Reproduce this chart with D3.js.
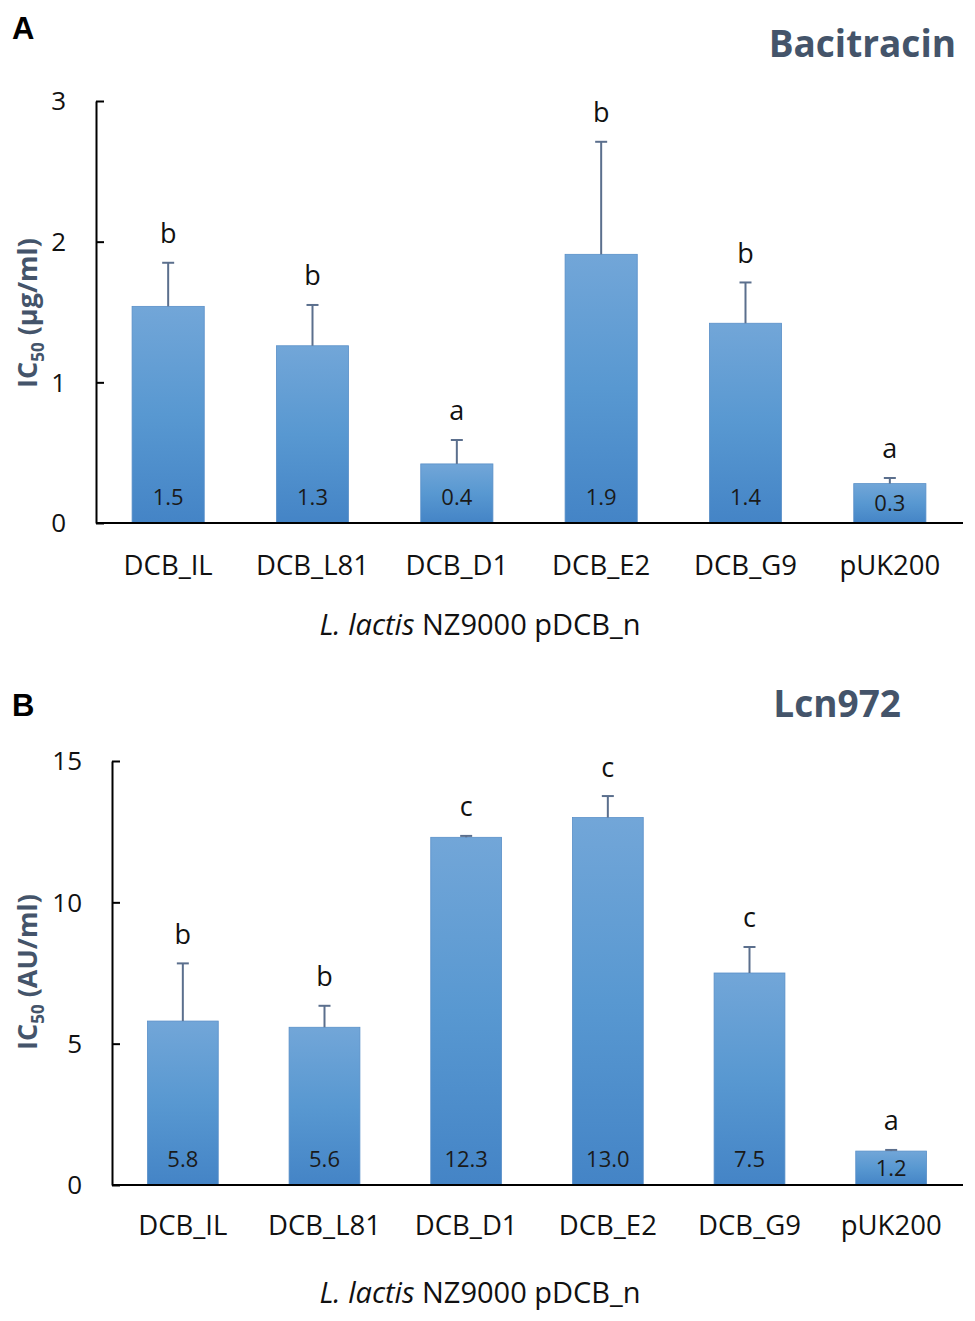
<!DOCTYPE html>
<html>
<head>
<meta charset="utf-8">
<script src="https://cdn.jsdelivr.net/npm/d3@7"></script>
<style>
  body { margin: 0; background: #fff; }
  svg { display: block; font-family: 'Open Sans', sans-serif; }
</style>
</head>
<body>
<div id="chart"></div>
<script>
const categories = ['DCB_IL', 'DCB_L81', 'DCB_D1', 'DCB_E2', 'DCB_G9', 'pUK200']

// panel A, bacitracin IC50 (µg/ml)
const bacMean = [1.54, 1.26, 0.42, 1.91, 1.42, 0.28]
const bacErr = [0.31, 0.29, 0.17, 0.80, 0.29, 0.04]
const bacLetters = ['b', 'b', 'a', 'b', 'b', 'a']
const bacTicks = [0, 1, 2, 3]

// panel B, Lcn972 IC50 (AU/ml)
const lcnMean = [5.8, 5.58, 12.3, 13.0, 7.5, 1.2]
const lcnErr = [2.04, 0.76, 0.05, 0.76, 0.92, 0.04]
const lcnLetters = ['b', 'b', 'c', 'c', 'c', 'a']
const lcnTicks = [0, 5, 10, 15]

const width = 975
const height = 1321

const svg = d3.select('#chart')
  .append('svg')
  .attr('width', width)
  .attr('height', height)

const grad = svg.append('defs')
  .append('linearGradient')
  .attr('id', 'barFill')
  .attr('x1', 0).attr('y1', 0)
  .attr('x2', 0).attr('y2', 1)
grad.append('stop').attr('offset', '0%').attr('stop-color', '#72a6d8')
grad.append('stop').attr('offset', '50%').attr('stop-color', '#5898d1')
grad.append('stop').attr('offset', '100%').attr('stop-color', '#4484c6')

function panel(opts) {
  const { letter, title, titleX, titleY, top, bottom, left, right, max, ticks,
    means, errs, letters, unit, yLabelY, catY, xTitleY, letterY } = opts

  const g = svg.append('g')

  const x = d3.scaleBand()
    .domain(categories)
    .range([left, right])
    .paddingInner(0.5)
    .paddingOuter(0.25)

  const y = d3.scaleLinear()
    .domain([0, max])
    .range([bottom, top])

  const rows = categories.map((c, i) => ({ cat: c, v: means[i], e: errs[i], l: letters[i] }))

  // bars
  g.selectAll('rect.bar')
    .data(rows)
    .enter()
    .append('rect')
    .classed('bar', true)
    .attr('x', d => x(d.cat))
    .attr('width', x.bandwidth())
    .attr('y', d => y(d.v))
    .attr('height', d => y(0) - y(d.v))
    .style('fill', 'url(#barFill)')
    .style('stroke', '#5a90c8')
    .style('stroke-width', 0.8)

  // error bars (upper only)
  const eb = g.selectAll('g.err')
    .data(rows)
    .enter()
    .append('g')
    .classed('err', true)
    .style('stroke', '#5b6f8d')
    .style('stroke-width', 2)
  eb.append('line')
    .attr('x1', d => x(d.cat) + x.bandwidth() / 2)
    .attr('x2', d => x(d.cat) + x.bandwidth() / 2)
    .attr('y1', d => y(d.v))
    .attr('y2', d => y(d.v + d.e))
  eb.append('line')
    .attr('x1', d => x(d.cat) + x.bandwidth() / 2 - 6)
    .attr('x2', d => x(d.cat) + x.bandwidth() / 2 + 6)
    .attr('y1', d => y(d.v + d.e))
    .attr('y2', d => y(d.v + d.e))

  // significance letters
  g.selectAll('text.sig')
    .data(rows)
    .enter()
    .append('text')
    .classed('sig', true)
    .attr('x', d => x(d.cat) + x.bandwidth() / 2)
    .attr('y', d => y(d.v + d.e) - 29)
    .attr('dy', '0.35em')
    .attr('text-anchor', 'middle')
    .style('font-size', '27px')
    .style('fill', '#111')
    .text(d => d.l)

  // value labels at the bar base
  g.selectAll('text.val')
    .data(rows)
    .enter()
    .append('text')
    .classed('val', true)
    .attr('x', d => x(d.cat) + x.bandwidth() / 2)
    .attr('y', d => Math.max(y(0) - 26, (y(0) + y(d.v)) / 2))
    .attr('dy', '0.36em')
    .attr('text-anchor', 'middle')
    .style('font-size', '22px')
    .style('fill', '#1a1a1a')
    .text(d => d3.format('.1f')(d.v))

  // y axis, ticks pointing inward
  const yAxis = g.append('g')
    .attr('transform', `translate(${left},0)`)
    .call(d3.axisRight(y).tickValues(ticks).tickSize(8).tickSizeOuter(0).tickFormat(''))
  yAxis.select('.domain').style('stroke', '#000').style('stroke-width', 2)
  yAxis.selectAll('.tick line').style('stroke', '#000').style('stroke-width', 2)

  g.selectAll('text.tick')
    .data(ticks)
    .enter()
    .append('text')
    .classed('tick', true)
    .attr('x', left - 30)
    .attr('y', d => y(d))
    .attr('dy', '0.36em')
    .attr('text-anchor', 'end')
    .style('font-size', '26px')
    .style('fill', '#111')
    .text(d => d)

  // x axis baseline
  const xAxis = g.append('g')
    .attr('transform', `translate(0,${bottom})`)
    .call(d3.axisBottom(x).tickSize(0).tickPadding(0))
  xAxis.select('.domain')
    .attr('d', `M${left},0H${right + 1}`)
    .style('stroke', '#000')
    .style('stroke-width', 2)
  xAxis.selectAll('.tick text')
    .attr('y', catY - bottom)
    .attr('dy', '0.36em')
    .style('font-size', '27.5px')
    .style('font-family', "'Open Sans', sans-serif")
    .style('fill', '#111')

  // x title
  const xt = g.append('text')
    .attr('x', 480)
    .attr('y', xTitleY)
    .attr('dy', '0.36em')
    .attr('text-anchor', 'middle')
    .style('font-size', '29px')
    .style('fill', '#111')
  xt.append('tspan').style('font-style', 'italic').text('L. lactis')
  xt.append('tspan').text(' NZ9000 pDCB_n')

  // y title
  const yt = g.append('text')
    .attr('transform', `translate(27,${yLabelY}) rotate(-90)`)
    .attr('dy', '0.36em')
    .attr('text-anchor', 'middle')
    .style('font-size', '27px')
    .style('font-weight', 'bold')
    .style('fill', '#44546a')
  yt.append('tspan').text('IC')
  yt.append('tspan').attr('dy', 7).style('font-size', '17px').text('50')
  yt.append('tspan').attr('dy', -7).text(` (${unit})`)

  // chart title
  g.append('text')
    .attr('x', titleX)
    .attr('y', titleY)
    .attr('text-anchor', 'end')
    .style('font-size', '37px')
    .style('font-weight', 'bold')
    .style('fill', '#44546a')
    .text(title)

  // panel letter
  g.append('text')
    .attr('x', 12)
    .attr('y', letterY)
    .style('font-family', "'Liberation Sans', Arial, sans-serif")
    .style('font-size', '31px')
    .style('font-weight', 'bold')
    .style('fill', '#000')
    .text(letter)
}

panel({
  letter: 'A', letterY: 39,
  title: 'Bacitracin', titleX: 956, titleY: 57,
  top: 101, bottom: 523, left: 96, right: 962, max: 3, ticks: bacTicks,
  means: bacMean, errs: bacErr, letters: bacLetters, unit: 'µg/ml',
  yLabelY: 313, catY: 565, xTitleY: 625
})

panel({
  letter: 'B', letterY: 716,
  title: 'Lcn972', titleX: 901, titleY: 717,
  top: 761, bottom: 1185, left: 112, right: 962, max: 15, ticks: lcnTicks,
  means: lcnMean, errs: lcnErr, letters: lcnLetters, unit: 'AU/ml',
  yLabelY: 972, catY: 1225, xTitleY: 1293
})
</script>
</body>
</html>
